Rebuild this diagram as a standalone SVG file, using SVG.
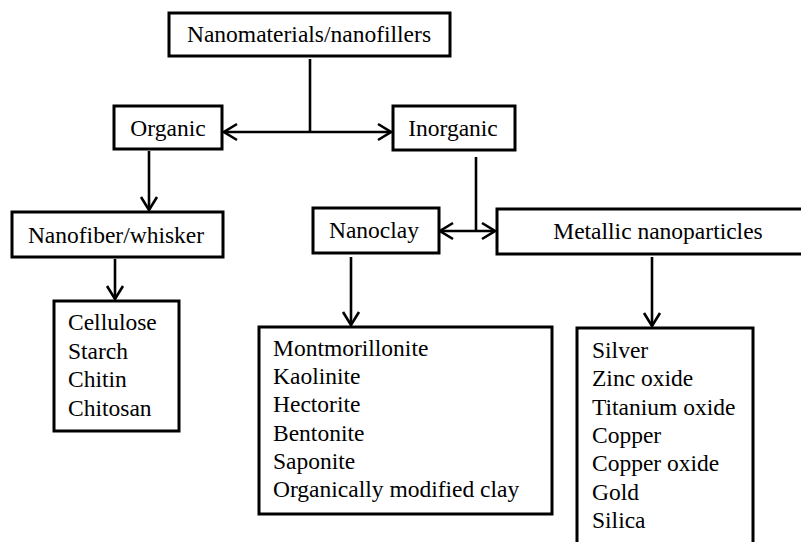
<svg xmlns="http://www.w3.org/2000/svg" width="801" height="542" viewBox="0 0 801 542">
<defs>
<style>
.box{fill:#fff;stroke:#000;stroke-width:3}
.t{font-family:'Liberation Serif','Times New Roman',serif;font-size:23.5px;fill:#000}
.c{text-anchor:middle}
.ln{fill:none;stroke:#000;stroke-width:2.6}
</style>
<marker id="ah" viewBox="0 0 16 20" refX="15" refY="10" markerWidth="16" markerHeight="20" markerUnits="userSpaceOnUse" orient="auto-start-reverse">
<path d="M2,2 L15,10 L2,18" fill="none" stroke="#000" stroke-width="2.6"/>
</marker>
</defs>
<rect width="801" height="542" fill="#fff"/>
<g id="connectors">
<line class="ln" x1="310" y1="59" x2="310" y2="132"/>
<line class="ln" x1="224" y1="132" x2="391" y2="132" marker-start="url(#ah)" marker-end="url(#ah)"/>
<line class="ln" x1="149" y1="151" x2="149" y2="210" marker-end="url(#ah)"/>
<line class="ln" x1="115" y1="259" x2="115" y2="299" marker-end="url(#ah)"/>
<line class="ln" x1="476" y1="157" x2="476" y2="231"/>
<line class="ln" x1="440" y1="231" x2="495" y2="231" marker-start="url(#ah)" marker-end="url(#ah)"/>
<line class="ln" x1="351" y1="257" x2="351" y2="325" marker-end="url(#ah)"/>
<line class="ln" x1="652" y1="257" x2="652" y2="326" marker-end="url(#ah)"/>
</g>
<g id="n-top">
<rect class="box" x="169" y="13" width="281" height="43"/>
<text class="t c" x="309" y="42">Nanomaterials/nanofillers</text>
</g>
<g id="n-organic">
<rect class="box" x="114" y="106" width="108" height="43"/>
<text class="t c" x="168" y="136">Organic</text>
</g>
<g id="n-inorganic">
<rect class="box" x="393" y="106" width="122" height="44"/>
<text class="t c" x="453" y="136">Inorganic</text>
</g>
<g id="n-nanofiber">
<rect class="box" x="12" y="212" width="211" height="45"/>
<text class="t c" x="116" y="243">Nanofiber/whisker</text>
</g>
<g id="n-nanoclay">
<rect class="box" x="313" y="208" width="126" height="45"/>
<text class="t c" x="374" y="238">Nanoclay</text>
</g>
<g id="n-metallic">
<rect class="box" x="497" y="209" width="310" height="45"/>
<text class="t c" x="658" y="239">Metallic nanoparticles</text>
</g>
<g id="n-cellulose">
<rect class="box" x="54" y="301" width="125" height="130"/>
<text class="t" x="68" y="330">Cellulose</text>
<text class="t" x="68" y="358.5">Starch</text>
<text class="t" x="68" y="387">Chitin</text>
<text class="t" x="68" y="415.5">Chitosan</text>
</g>
<g id="n-clays">
<rect class="box" x="259" y="327" width="293" height="187"/>
<text class="t" x="273" y="356">Montmorillonite</text>
<text class="t" x="273" y="384.2">Kaolinite</text>
<text class="t" x="273" y="412.4">Hectorite</text>
<text class="t" x="273" y="440.6">Bentonite</text>
<text class="t" x="273" y="468.8">Saponite</text>
<text class="t" x="273" y="497">Organically modified clay</text>
</g>
<g id="n-metals">
<rect class="box" x="577" y="328" width="176" height="230"/>
<text class="t" x="592" y="358">Silver</text>
<text class="t" x="592" y="386.3">Zinc oxide</text>
<text class="t" x="592" y="414.6">Titanium oxide</text>
<text class="t" x="592" y="442.9">Copper</text>
<text class="t" x="592" y="471.2">Copper oxide</text>
<text class="t" x="592" y="499.5">Gold</text>
<text class="t" x="592" y="527.8">Silica</text>
</g>
</svg>
